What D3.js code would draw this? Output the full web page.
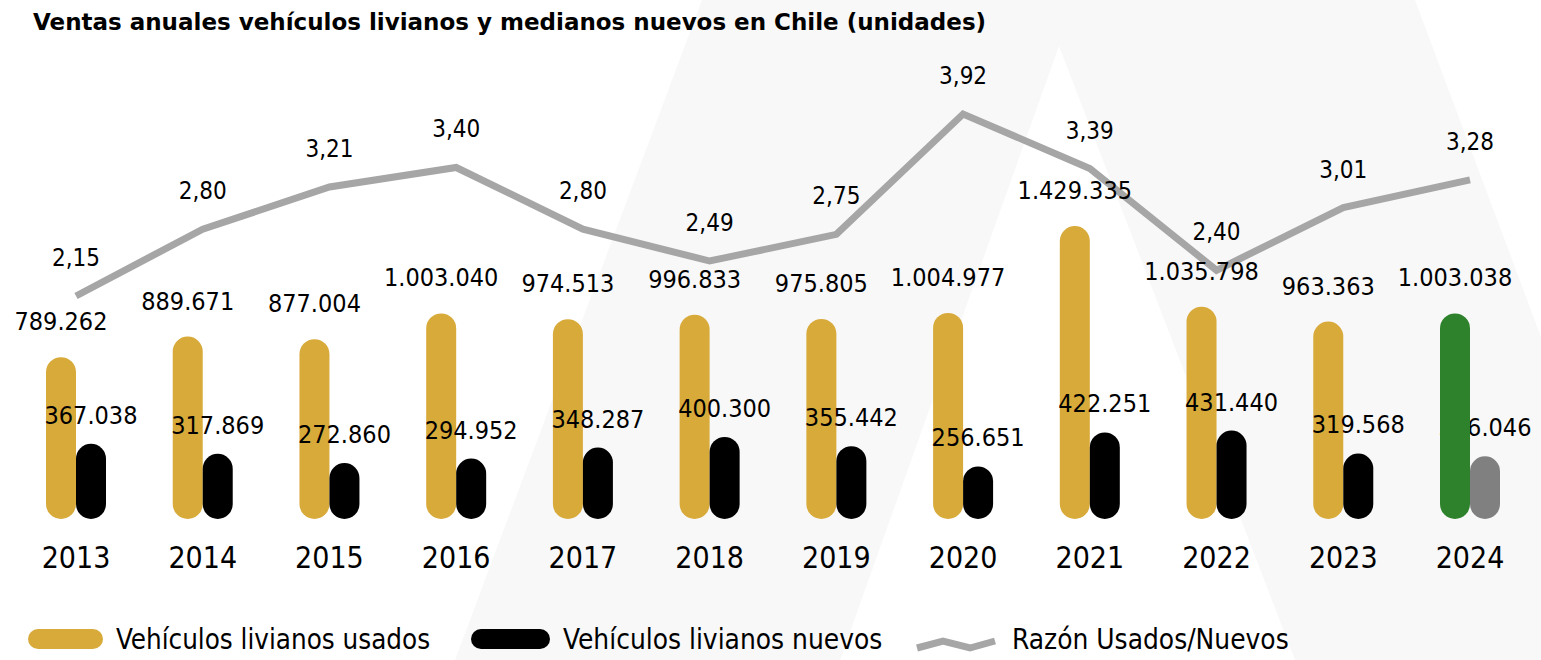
<!DOCTYPE html>
<html>
<head>
<meta charset="utf-8">
<script src="https://cdn.jsdelivr.net/npm/d3@7"></script>
<style>
  html, body { margin: 0; padding: 0; background: #ffffff; }
  svg { display: block; }
  text { font-family: "DejaVu Sans Condensed", "DejaVu Sans", sans-serif; font-stretch: condensed; fill: #000; }
  text.title { font-family: "DejaVu Sans", sans-serif; font-stretch: normal; }
</style>
</head>
<body>
<svg id="chart" width="1541" height="660"></svg>
<script>
const years = ["2013","2014","2015","2016","2017","2018","2019","2020","2021","2022","2023","2024"];
const usados = [789262, 889671, 877004, 1003040, 974513, 996833, 975805, 1004977, 1429335, 1035798, 963363, 1003038];
const nuevos = [367038, 317869, 272860, 294952, 348287, 400300, 355442, 256651, 422251, 431440, 319568, 306046];
const razon = [2.15, 2.80, 3.21, 3.40, 2.80, 2.49, 2.75, 3.92, 3.39, 2.40, 3.01, 3.28];
const highlightYear = "2024";
const titleText = "Ventas anuales vehículos livianos y medianos nuevos en Chile (unidades)";
const legendLabels = ["Vehículos livianos usados", "Vehículos livianos nuevos", "Razón Usados/Nuevos"];

const colors = { usados: "#d8aa3a", nuevos: "#000000", usadosHi: "#2e822c", nuevosHi: "#808080", razon: "#a6a6a6", bg: "#f8f8f8" };

const loc = d3.formatLocale({ decimal: ",", thousands: ".", grouping: [3], currency: ["$", ""] });
const fmtInt = loc.format(",d");
const fmtRatio = loc.format(",.2f");

const svg = d3.select("#chart");

// background watermark "A"
svg.append("path")
  .attr("d", "M702,0 L1415,0 L1541,337 L1541,660 L455,660 Z M1059,46 L840,660 L1295,660 Z")
  .attr("fill", colors.bg)
  .attr("fill-rule", "evenodd");

const x = d3.scalePoint().domain(years).range([76, 1470]);
const yBar = d3.scaleLinear().domain([0, 1500000]).range([519, 519 - 307.5]);
const yRatio = d3.scaleLinear().domain([0, 4]).range([517, 517 - 411.2]);

const barW = 30;
const data = years.map((yr, i) => ({ yr, u: usados[i], n: nuevos[i], r: razon[i], hi: yr === highlightYear }));

// title
svg.append("text")
  .attr("class", "title")
  .attr("x", 33).attr("y", 30)
  .attr("font-size", 23).attr("font-weight", "bold")
  .text(titleText);

const gBars = svg.append("g");
const gLabels = svg.append("g");
const gHi = svg.append("g");

function drawBar(g, d, val, color, dx) {
  g.append("rect")
    .attr("x", x(d.yr) + dx)
    .attr("y", yBar(val))
    .attr("width", barW)
    .attr("height", yBar(0) - yBar(val))
    .attr("rx", barW / 2).attr("ry", barW / 2)
    .attr("fill", color);
}

data.forEach(d => {
  if (!d.hi) {
    drawBar(gBars, d, d.u, colors.usados, -barW);
    drawBar(gBars, d, d.n, colors.nuevos, 0);
  }
});

// new labels
gLabels.selectAll("text.n").data(data).join("text")
  .attr("class", "n")
  .attr("x", d => x(d.yr) + barW / 2)
  .attr("y", d => yBar(d.n) - 20)
  .attr("text-anchor", "middle")
  .attr("font-size", 25)
  .text(d => fmtInt(d.n));

// highlighted bars drawn over the labels
data.forEach(d => {
  if (d.hi) {
    drawBar(gHi, d, d.u, colors.usadosHi, -barW);
    drawBar(gHi, d, d.n, colors.nuevosHi, 0);
  }
});

// ratio line
const line = d3.line().x(d => x(d.yr)).y(d => yRatio(d.r));
svg.append("path")
  .datum(data)
  .attr("d", line)
  .attr("fill", "none")
  .attr("stroke", colors.razon)
  .attr("stroke-width", 7)
  .attr("stroke-linejoin", "miter")
  .attr("stroke-linecap", "butt");

const gTop = svg.append("g");
// used labels
gTop.selectAll("text.u").data(data).join("text")
  .attr("class", "u")
  .attr("x", d => x(d.yr) - barW / 2)
  .attr("y", d => yBar(d.u) - 27)
  .attr("text-anchor", "middle")
  .attr("font-size", 25)
  .text(d => fmtInt(d.u));

// ratio labels
gTop.selectAll("text.r").data(data).join("text")
  .attr("class", "r")
  .attr("x", d => x(d.yr))
  .attr("y", d => yRatio(d.r) - 30)
  .attr("text-anchor", "middle")
  .attr("font-size", 24)
  .text(d => fmtRatio(d.r));

// year labels
gTop.selectAll("text.yr").data(data).join("text")
  .attr("class", "yr")
  .attr("x", d => x(d.yr))
  .attr("y", 568)
  .attr("text-anchor", "middle")
  .attr("font-size", 30)
  .text(d => d.yr);

// legend
const lg = svg.append("g");
lg.append("rect").attr("x", 28).attr("y", 629).attr("width", 75).attr("height", 20).attr("rx", 10).attr("fill", colors.usados);
lg.append("text").attr("x", 116).attr("y", 649).attr("font-size", 27.5).text(legendLabels[0]);
lg.append("rect").attr("x", 471).attr("y", 629).attr("width", 79).attr("height", 20).attr("rx", 10).attr("fill", colors.nuevos);
lg.append("text").attr("x", 563).attr("y", 649).attr("font-size", 27.8).text(legendLabels[1]);
lg.append("path").attr("d", "M917,648 L943,641 L970,648 L995,641")
  .attr("fill", "none").attr("stroke", colors.razon).attr("stroke-width", 7);
lg.append("text").attr("x", 1012).attr("y", 649).attr("font-size", 27.8).text(legendLabels[2]);
</script>
</body>
</html>
